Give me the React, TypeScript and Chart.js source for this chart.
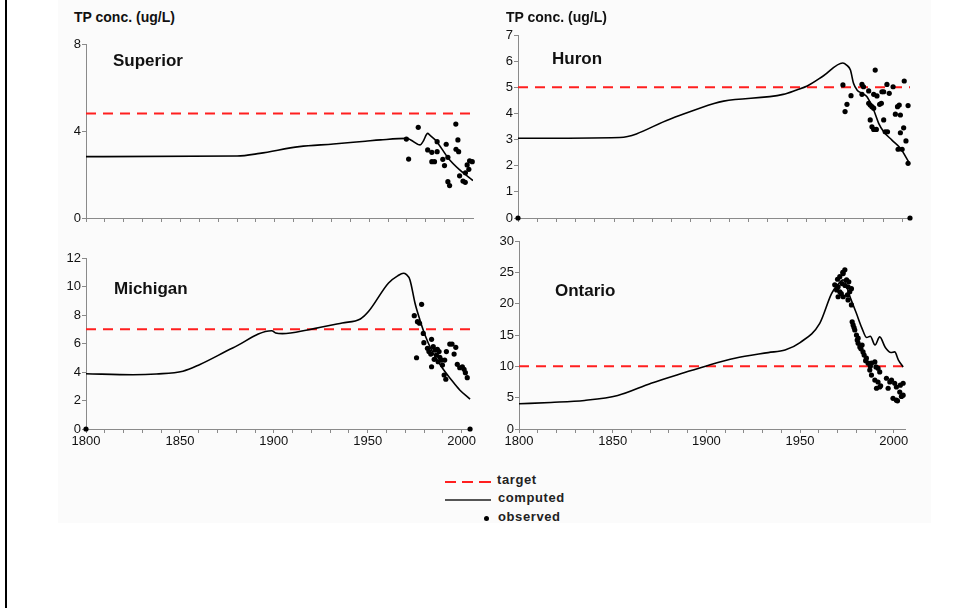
import React, { useEffect, useRef } from 'react';
import { Chart, registerables } from 'chart.js';

Chart.register(...registerables);

const FONT = '"Liberation Sans", Arial, Helvetica, sans-serif';
const AXIS = '#8a8a8a';

// ---- shared axis ticks ----
const xTickYears = [1800, 1810, 1820, 1830, 1840, 1850, 1860, 1870, 1880, 1890, 1900, 1910, 1920, 1930, 1940, 1950, 1960, 1970, 1980, 1990, 2000];
const xLabelYears = [1800, 1850, 1900, 1950, 2000];

// ---- Superior ----
const superiorTarget = 4.8;
const superiorYTicks = [0, 4, 8];
const superiorCompYears = [1800, 1880, 1892, 1913, 1931, 1948, 1956, 1970, 1972, 1977, 1978.5, 1981, 1982, 1985, 1986.5, 1992, 1998, 2005];
const superiorCompValues = [2.82, 2.85, 2.97, 3.28, 3.4, 3.53, 3.59, 3.66, 3.59, 3.36, 3.51, 3.89, 3.82, 3.59, 3.43, 2.74, 2.21, 1.72];
const superiorObsYears = [1969.7, 1970.9, 1976, 1995.9, 1986, 1990.8, 1981, 1983.2, 1986, 1983.2, 1984.6, 1989, 1989.9, 1997, 1996, 1997.4, 1991.7, 2001.9, 2003.2, 2004.6, 2002.8, 2001, 1997.9, 1999.7, 2000.9, 1991.7, 1992.6];
const superiorObsValues = [3.63, 2.71, 4.17, 4.32, 3.51, 3.39, 3.13, 3.02, 3.05, 2.59, 2.59, 2.7, 2.41, 3.59, 3.16, 3.05, 2.79, 2.44, 2.63, 2.59, 2.24, 2.08, 1.94, 1.7, 1.64, 1.67, 1.49];

// ---- Huron ----
const huronTarget = 5;
const huronYTicks = [0, 1, 2, 3, 4, 5, 6, 7];
const huronCompYears = [1800, 1853, 1879, 1902, 1907, 1938, 1945, 1950.5, 1959, 1969, 1971, 1973, 1974.6, 1976.4, 1979, 1981.6, 1985.1, 1987.7, 1990.3, 1994.6, 1999, 2003.3];
const huronCompValues = [3.05, 3.08, 3.78, 4.38, 4.47, 4.73, 4.9, 5.05, 5.44, 5.93, 5.85, 5.66, 5.15, 4.9, 4.77, 4.64, 4.13, 3.62, 3.3, 2.98, 2.67, 2.15];
const huronObsYears = [1969.1, 1971.2, 1970.2, 1973.3, 1985.9, 1979, 1979.8, 1979, 1982.5, 1985.1, 1986.8, 1989.4, 1990.3, 1992, 1993.2, 1995.2, 2001, 1982.5, 1983.3, 1984.2, 1985.1, 1988.2, 1989.1, 1983.3, 1984.2, 1985.1, 1986.5, 1990.3, 1991.1, 1992.3, 1997.5, 1998.4, 1996.4, 1999, 2003, 2000.7, 1999, 2001.9, 1997.8, 1999.9, 2003, 1800, 2004];
const huronObsValues = [5.09, 4.35, 4.07, 4.68, 5.66, 5.11, 5.02, 4.73, 4.86, 4.73, 4.67, 4.83, 4.83, 5.11, 4.77, 5.02, 5.24, 4.39, 4.32, 4.26, 4.2, 4.35, 4.39, 3.75, 3.49, 3.39, 3.39, 3.75, 3.3, 3.3, 4.26, 4.32, 3.97, 3.94, 4.3, 3.45, 3.26, 2.95, 2.63, 2.63, 2.09, 0, 0];

// ---- Michigan ----
const michiganTarget = 7;
const michiganYTicks = [0, 2, 4, 6, 8, 10, 12];
const michiganCompYears = [1800, 1825, 1837.5, 1851.6, 1860.4, 1878.1, 1898.9, 1901, 1904.6, 1918.7, 1936.4, 1946.1, 1950.5, 1961.1, 1966, 1969, 1970.5, 1972.5, 1975.2, 1977.8, 1980.5, 1984, 1989.3, 1994.6, 1999, 2004.5];
const michiganCompValues = [3.88, 3.81, 3.86, 4.05, 4.51, 5.68, 6.9, 6.74, 6.69, 6.97, 7.44, 7.72, 8.26, 10.25, 10.75, 10.93, 10.85, 10.46, 8.82, 7.65, 6.6, 5.54, 4.37, 3.44, 2.74, 2.1];
const michiganObsYears = [1978.7, 1974.8, 1976.5, 1977.6, 1979.6, 1976, 1979.9, 1984, 1984, 1981.8, 1982.6, 1983.6, 1984.9, 1985.8, 1987.1, 1988, 1986.6, 1988.4, 1985.4, 1989.3, 1991, 1989.8, 1991.9, 1993.7, 1994.9, 1996.9, 1996, 1990.7, 1991.6, 1997.7, 1999, 2000.4, 2001.3, 2002, 2003, 1987.5, 1800, 2004.5];
const michiganObsValues = [8.75, 7.95, 7.53, 7.42, 6.71, 5.0, 6.06, 4.37, 6.29, 5.66, 5.43, 5.26, 5.78, 5.54, 5.59, 5.43, 5.19, 5.03, 4.89, 4.84, 4.84, 4.49, 5.43, 5.96, 5.96, 5.73, 5.26, 3.79, 3.49, 4.54, 4.3, 4.37, 4.19, 3.95, 3.6, 4.72, 0, 0];

// ---- Ontario ----
const ontarioTarget = 10;
const ontarioYTicks = [0, 5, 10, 15, 20, 25, 30];
const ontarioCompYears = [1800, 1817, 1835, 1852.7, 1870.5, 1888.4, 1900, 1915.2, 1933, 1942, 1950, 1960.5, 1966.8, 1970, 1973, 1977, 1980, 1983, 1985.5, 1987.5, 1990, 1992.5, 1995.5, 1998.5, 2000.5, 2002.5, 2005];
const ontarioCompValues = [4.03, 4.24, 4.56, 5.35, 7.31, 9.01, 10.07, 11.29, 12.19, 12.61, 13.8, 16.86, 21.6, 23.0, 23.8, 20.8, 18.5, 16.1, 14.6, 14.8, 13.4, 14.7, 13.0, 12.2, 12.3, 11.0, 9.9];
const ontarioObsYears = [1973.9, 1973, 1971.2, 1970, 1974.8, 1968.5, 1970.3, 1972.4, 1975.6, 1971.2, 1970.3, 1973, 1975.3, 1976.5, 1977.4, 1975.6, 1977.4, 1977.8, 1978.3, 1979.2, 1980.1, 1981, 1981, 1981.9, 1983.1, 1983.6, 1984.2, 1985.4, 1986.3, 1988.1, 1989.9, 1991.6, 1992.5, 1987.2, 1988.1, 1989.9, 1991.6, 1990.8, 1992.5, 1996.1, 1997.9, 1998.8, 2000.5, 1997, 2001.4, 2005, 2003.2, 2005, 1999.6, 2001.4, 2004.1, 1969.5, 1972, 1974, 1976, 1972.8, 1978.8, 1980.5, 1982.5, 1985, 1987.5, 1990.5, 1993, 2002, 2003.5];
const ontarioObsValues = [25.4, 24.8, 24.3, 23.9, 23.8, 23.0, 22.7, 23.2, 22.7, 21.9, 21.1, 21.1, 21.4, 21.9, 22.4, 20.6, 19.8, 17.1, 16.6, 15.8, 15.0, 14.5, 13.7, 13.1, 13.4, 12.3, 11.8, 11.3, 10.5, 10.5, 10.7, 9.7, 9.1, 9.4, 8.6, 7.8, 7.5, 6.5, 6.7, 8.1, 7.5, 7.8, 7.3, 6.5, 6.7, 7.3, 5.9, 5.4, 4.9, 4.6, 5.2, 22.2, 21.6, 22.9, 23.5, 25.0, 16.2, 14.2, 12.8, 10.9, 10.0, 9.9, 6.9, 4.5, 7.0];

type Box = { left: number; top: number; width: number; height: number };

type PanelProps = {
  box: Box;
  target: number;
  yTicks: number[];
  compYears: number[];
  compValues: number[];
  obsYears: number[];
  obsValues: number[];
  showXLabels: boolean;
  xMax: number;
};

const Y_AXIS_W = 44;
const X_AXIS_H = 22;
const PAD_TOP = 12;
const PAD_RIGHT = 12;

function Panel(p: PanelProps) {
  const ref = useRef<HTMLCanvasElement>(null);
  useEffect(() => {
    const canvas = ref.current;
    if (!canvas) return;
    const yMin = p.yTicks[0];
    const yMax = p.yTicks[p.yTicks.length - 1];
    const tickFont = { family: FONT, size: 13 };
    const chart = new Chart(canvas, {
      type: 'line',
      data: {
        datasets: [
          {
            label: 'target',
            data: [
              { x: 1800, y: p.target },
              { x: p.xMax, y: p.target },
            ],
            borderColor: '#ff1f1f',
            borderWidth: 2,
            borderDash: [10, 7],
            pointRadius: 0,
            fill: false,
            order: 3,
          },
          {
            label: 'computed',
            data: p.compYears.map((x, i) => ({ x, y: p.compValues[i] })),
            borderColor: '#000000',
            borderWidth: 1.6,
            pointRadius: 0,
            fill: false,
            cubicInterpolationMode: 'monotone',
            order: 2,
          },
          {
            type: 'scatter',
            label: 'observed',
            data: p.obsYears.map((x, i) => ({ x, y: p.obsValues[i] })),
            pointRadius: 2.6,
            pointBackgroundColor: '#000000',
            pointBorderColor: '#000000',
            pointBorderWidth: 0,
            showLine: false,
            clip: false,
            order: 1,
          } as any,
        ],
      },
      options: {
        animation: false,
        responsive: false,
        maintainAspectRatio: false,
        events: [],
        layout: { padding: { top: PAD_TOP, right: PAD_RIGHT, left: 0, bottom: 0 } },
        plugins: {
          legend: { display: false },
          tooltip: { enabled: false },
          title: { display: false },
        },
        scales: {
          x: {
            type: 'linear',
            min: 1800,
            max: p.xMax,
            afterBuildTicks: (s: any) => {
              s.ticks = xTickYears.map((v) => ({ value: v }));
            },
            afterFit: (s: any) => {
              s.height = X_AXIS_H;
            },
            grid: {
              display: true,
              drawOnChartArea: false,
              drawTicks: true,
              tickLength: 4,
              color: AXIS,
              lineWidth: 1,
            },
            border: { display: true, color: AXIS, width: 1 },
            ticks: {
              autoSkip: false,
              maxRotation: 0,
              minRotation: 0,
              padding: 1,
              color: '#111111',
              font: tickFont,
              callback: (v: any) =>
                p.showXLabels && xLabelYears.includes(Number(v)) ? String(v) : '',
            },
          },
          y: {
            type: 'linear',
            min: yMin,
            max: yMax,
            afterBuildTicks: (s: any) => {
              s.ticks = p.yTicks.map((v) => ({ value: v }));
            },
            afterFit: (s: any) => {
              s.width = Y_AXIS_W;
            },
            grid: {
              display: true,
              drawOnChartArea: false,
              drawTicks: true,
              tickLength: 4,
              color: AXIS,
              lineWidth: 1,
            },
            border: { display: true, color: AXIS, width: 1 },
            ticks: {
              padding: 1,
              color: '#111111',
              font: tickFont,
              callback: (v: any) => String(v),
            },
          },
        },
      } as any,
    });
    return () => chart.destroy();
  }, []);
  const b = p.box;
  return (
    <canvas
      ref={ref}
      width={b.width}
      height={b.height}
      style={{ position: 'absolute', left: b.left, top: b.top, width: b.width, height: b.height }}
    />
  );
}

// chart-area rectangles -> canvas boxes
function boxFor(areaLeft: number, areaTop: number, areaRight: number, areaBottom: number): Box {
  const left = areaLeft - Y_AXIS_W;
  const top = areaTop - PAD_TOP;
  return { left, top, width: areaRight - left + PAD_RIGHT, height: areaBottom - top + X_AXIS_H };
}

const labelStyle = (left: number, top: number, size: number): React.CSSProperties => ({
  position: 'absolute',
  left,
  top,
  fontFamily: FONT,
  fontWeight: 'bold',
  fontSize: size,
  lineHeight: `${size}px`,
  color: '#111',
  whiteSpace: 'nowrap',
});

export default function App() {
  return (
    <div
      style={{
        position: 'absolute',
        left: 0,
        top: 0,
        width: 968,
        height: 608,
        background: '#ffffff',
        overflow: 'hidden',
      }}
    >
      <div style={{ position: 'absolute', left: 58, top: 0, width: 873, height: 523, background: '#fbfbfb' }} />
      <div style={{ position: 'absolute', left: 5, top: 0, width: 2, height: 608, background: '#000' }} />

      <Panel
        box={boxFor(86, 44, 473, 218)}
        target={superiorTarget}
        yTicks={superiorYTicks}
        compYears={superiorCompYears}
        compValues={superiorCompValues}
        obsYears={superiorObsYears}
        obsValues={superiorObsValues}
        showXLabels={false}
        xMax={2005}
      />
      <Panel
        box={boxFor(518, 35, 910, 218)}
        target={huronTarget}
        yTicks={huronYTicks}
        compYears={huronCompYears}
        compValues={huronCompValues}
        obsYears={huronObsYears}
        obsValues={huronObsValues}
        showXLabels={false}
        xMax={2004}
      />
      <Panel
        box={boxFor(86, 258, 471, 429)}
        target={michiganTarget}
        yTicks={michiganYTicks}
        compYears={michiganCompYears}
        compValues={michiganCompValues}
        obsYears={michiganObsYears}
        obsValues={michiganObsValues}
        showXLabels={true}
        xMax={2005}
      />
      <Panel
        box={boxFor(519, 241, 905, 429)}
        target={ontarioTarget}
        yTicks={ontarioYTicks}
        compYears={ontarioCompYears}
        compValues={ontarioCompValues}
        obsYears={ontarioObsYears}
        obsValues={ontarioObsValues}
        showXLabels={true}
        xMax={2006}
      />

      <div style={labelStyle(74, 10, 14)}>TP conc. (ug/L)</div>
      <div style={labelStyle(506, 10, 14)}>TP conc. (ug/L)</div>
      <div style={labelStyle(113, 52, 17)}>Superior</div>
      <div style={labelStyle(552, 50, 17)}>Huron</div>
      <div style={labelStyle(114, 280, 17)}>Michigan</div>
      <div style={labelStyle(555, 282, 17)}>Ontario</div>

      {/* legend */}
      <div style={{ position: 'absolute', left: 445, top: 481, width: 11, height: 2, background: '#ff1f1f' }} />
      <div style={{ position: 'absolute', left: 462, top: 481, width: 11, height: 2, background: '#ff1f1f' }} />
      <div style={{ position: 'absolute', left: 479, top: 481, width: 12, height: 2, background: '#ff1f1f' }} />
      <div style={{ position: 'absolute', left: 445, top: 499, width: 46, height: 2, background: '#555' }} />
      <div style={{ position: 'absolute', left: 484, top: 516, width: 5, height: 5, borderRadius: '50%', background: '#000' }} />
      <div style={{ ...labelStyle(497, 473, 13), letterSpacing: 0.6, color: '#222' }}>target</div>
      <div style={{ ...labelStyle(498, 491, 13), letterSpacing: 0.6, color: '#222' }}>computed</div>
      <div style={{ ...labelStyle(498, 510, 13), letterSpacing: 0.6, color: '#222' }}>observed</div>
    </div>
  );
}
